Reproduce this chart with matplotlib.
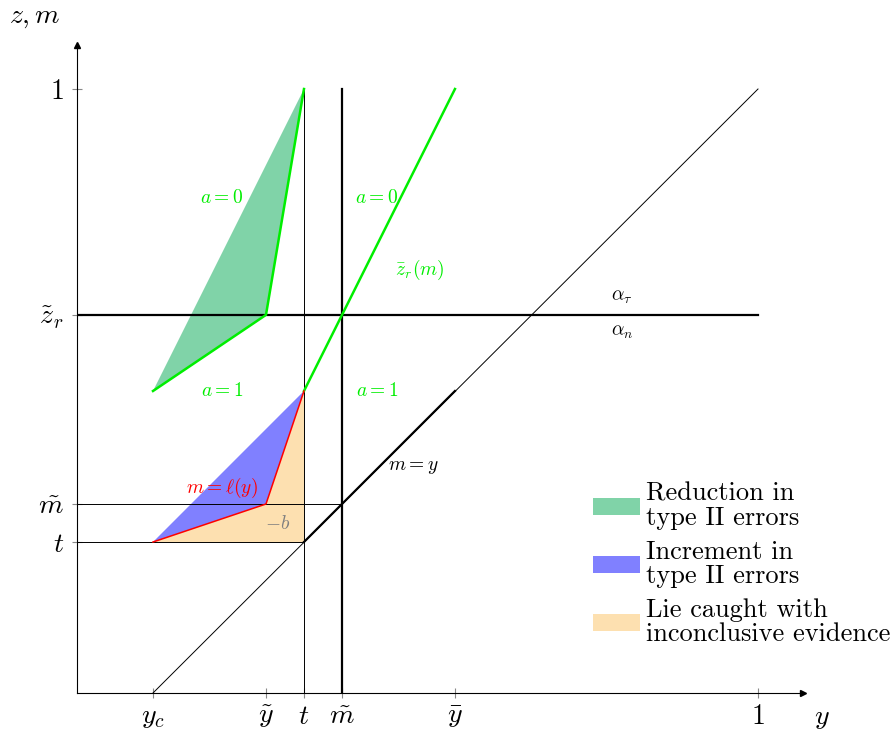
import matplotlib
matplotlib.use("Agg")
import matplotlib.pyplot as plt
from matplotlib.patches import Polygon, Patch

plt.rcParams['mathtext.fontset'] = 'cm'
plt.rcParams['font.family'] = 'cmr10'
plt.rcParams['axes.formatter.use_mathtext'] = True

# key positions (x axis: y, y axis: z, m)
x_ticks = [0.1116, 0.2775, 0.3333, 0.389, 0.555, 1.0]
x_labels = [r'$y_c$', r'$\tilde{y}$', r'$t$', r'$\tilde{m}$', r'$\bar{y}$', r'$1$']
y_ticks = [0.25, 0.3129, 0.626, 1.0]
y_labels = [r'$t$', r'$\tilde{m}$', r'$\tilde{z}_r$', r'$1$']

yc, ytil, tx, mx, ybar = 0.1116, 0.2775, 0.3333, 0.389, 0.555
ty, my, zr, zmid = 0.25, 0.3129, 0.626, 0.5

green_poly = [(yc, zmid), (ytil, zr), (tx, 1.0)]
blue_poly = [(yc, ty), (ytil, my), (tx, zmid)]
orange_poly = [(yc, ty), (ytil, my), (tx, zmid), (tx, ty)]

legend_labels = ['Reduction in\ntype II errors', 'Increment in\ntype II errors',
                 'Lie caught with\ninconclusive evidence']

GREEN_FILL = '#80d3a8'
BLUE_FILL = '#8080ff'
ORANGE_FILL = '#fde0b0'
LGREEN = '#00ee00'

W, H = 895, 744
fig = plt.figure(figsize=(W / 100, H / 100), dpi=100)
ax = fig.add_axes([77 / W, 51 / H, (803 - 77) / W, (693 - 45) / H])
ax.set_xlim(0, (803 - 77) / 681)
ax.set_ylim(0, (693 - 45) / 604)
for s in ['top', 'right']:
    ax.spines[s].set_visible(False)
for s in ['left', 'bottom']:
    ax.spines[s].set_linewidth(0.8)

ax.set_xticks(x_ticks)
ax.set_xticklabels(x_labels, fontsize=20)
ax.set_yticks(y_ticks)
ax.set_yticklabels(y_labels, fontsize=20)
ax.tick_params(axis='both', direction='inout', length=7, width=0.8, color='#888888')
ax.tick_params(axis='x', pad=4)
ax.tick_params(axis='y', pad=6)

# arrows
ax.plot(1, 0, '>', color='k', markersize=5, transform=ax.transAxes, clip_on=False)
ax.plot(0, 1, '^', color='k', markersize=5, transform=ax.transAxes, clip_on=False)

# fills
ax.add_patch(Polygon(green_poly, closed=True, facecolor=GREEN_FILL, edgecolor='none', zorder=1))
ax.add_patch(Polygon(orange_poly, closed=True, facecolor=ORANGE_FILL, edgecolor='none', zorder=1))
ax.add_patch(Polygon(blue_poly, closed=True, facecolor=BLUE_FILL, edgecolor='none', zorder=1))

# lines
ax.plot([yc, 1], [0, 1], color='k', lw=0.7, zorder=2)
ax.plot([tx, ybar], [ty, zmid], color='k', lw=1.6, zorder=3)
ax.plot([tx, tx], [0, 1], color='k', lw=0.7, zorder=2)
ax.plot([mx, mx], [0, 1], color='k', lw=1.6, zorder=3)
ax.plot([0, 1], [zr, zr], color='k', lw=1.6, zorder=3)
ax.plot([0, mx], [my, my], color='k', lw=0.7, zorder=2)
ax.plot([0, tx], [ty, ty], color='k', lw=0.7, zorder=2)

ax.plot([green_poly[0][0], green_poly[1][0], green_poly[2][0]],
        [green_poly[0][1], green_poly[1][1], green_poly[2][1]], color=LGREEN, lw=1.8, zorder=4)
ax.plot([tx, ybar], [zmid, 1.0], color=LGREEN, lw=1.8, zorder=4)
ax.plot([blue_poly[0][0], blue_poly[1][0], blue_poly[2][0]],
        [blue_poly[0][1], blue_poly[1][1], blue_poly[2][1]], color='#ff0000', lw=1.1, zorder=4)

# annotations
fs = 14
for (x, y) in [(0.2129, 0.8195), (0.4405, 0.8195)]:
    ax.text(x, y, r'$a{=}0$', color=LGREEN, fontsize=fs, ha='center', va='center')
for (x, y) in [(0.2129, 0.5), (0.4405, 0.5)]:
    ax.text(x, y, r'$a{=}1$', color=LGREEN, fontsize=fs, ha='center', va='center')
ax.text(0.5037, 0.7003, r'$\bar{z}_r(m)$', color=LGREEN, fontsize=fs, ha='center', va='center')
ax.text(0.8003, 0.6556, r'$\alpha_\tau$', color='k', fontsize=fs, ha='center', va='center')
ax.text(0.8003, 0.5977, r'$\alpha_n$', color='k', fontsize=fs, ha='center', va='center')
ax.text(0.4934, 0.3742, r'$m{=}y$', color='k', fontsize=fs, ha='center', va='center')
ax.text(0.2129, 0.3394, r'$m{=}\ell(y)$', color='#ff0000', fontsize=fs, ha='center', va='center')
ax.text(0.2952, 0.2798, r'$-b$', color='#808080', fontsize=fs, ha='center', va='center')

fig.text(35 / W, 1 - 17 / H, r'$z, m$', fontsize=20, ha='center', va='center')
fig.text(822 / W, 1 - 718 / H, r'$y$', fontsize=20, ha='center', va='center')

handles = [Patch(facecolor=GREEN_FILL), Patch(facecolor=BLUE_FILL), Patch(facecolor=ORANGE_FILL)]
leg = fig.legend(handles, legend_labels, loc='upper left', bbox_to_anchor=(593 / W, 1 - 482 / H),
                 frameon=False, fontsize=19, handlelength=1.78, handleheight=0.61,
                 handletextpad=0.23, labelspacing=0.36, borderaxespad=0, borderpad=0)
for t in leg.get_texts():
    t.set_linespacing(1.05)

fig.savefig('out.png', dpi=100)
